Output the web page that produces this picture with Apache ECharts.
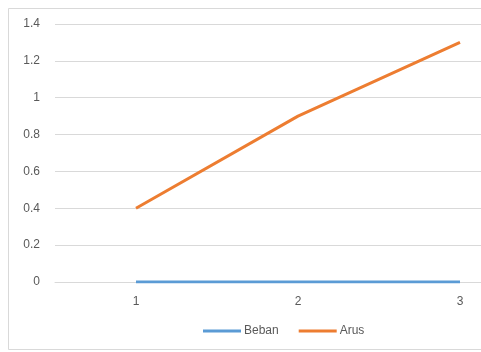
<!DOCTYPE html>
<html>
<head>
<meta charset="utf-8">
<script src="https://cdn.jsdelivr.net/npm/echarts@6/dist/echarts.min.js"></script>
<style>
  html, body { margin: 0; padding: 0; background: #ffffff; }
  #chart { width: 481px; height: 352px; }
</style>
</head>
<body>
<div id="chart"></div>
<script>
// Categories and series values
const categories = ['1', '2', '3'];
const bebanValues = [0, 0, 0];
const arusValues = [0.4, 0.9, 1.3];
const seriesNames = ['Beban', 'Arus'];

const chart = echarts.init(document.getElementById('chart'), null, { renderer: 'canvas' });

const labelFont = { color: '#595959', fontSize: 12, fontFamily: 'Liberation Sans, Arial, sans-serif' };

chart.setOption({
  backgroundColor: '#ffffff',
  animation: false,
  graphic: [{
    type: 'rect',
    shape: { x: 8.5, y: 8.5, width: 560, height: 341 },
    style: { fill: 'none', stroke: '#d9d9d9', lineWidth: 1 },
    z: -1
  }],
  legend: {
    left: 198,
    top: 320,
    itemWidth: 38,
    itemHeight: 3,
    itemGap: 20,
    icon: 'rect',
    textStyle: Object.assign({}, labelFont, { padding: [0, 0, 0, -2] }),
    data: seriesNames
  },
  // the plot area runs past the right edge of the canvas
  grid: { left: 55, width: 486, top: 24, bottom: 70, outerBoundsMode: 'none', containLabel: false },
  xAxis: {
    type: 'category',
    data: categories,
    boundaryGap: true,
    axisLine: { show: true, lineStyle: { color: '#d9d9d9' } },
    axisTick: { show: false },
    axisLabel: Object.assign({ margin: 14 }, labelFont),
    splitLine: { show: false }
  },
  yAxis: {
    type: 'value',
    min: 0,
    max: 1.4,
    interval: 0.2,
    axisLine: { show: false },
    axisTick: { show: false },
    axisLabel: Object.assign({ margin: 15, formatter: v => String(+v.toFixed(1)) }, labelFont),
    splitLine: { lineStyle: { color: '#d9d9d9', width: 1 } }
  },
  series: [
    {
      name: seriesNames[0],
      type: 'line',
      data: bebanValues,
      symbol: 'none',
      lineStyle: { color: '#5B9BD5', width: 3 },
      itemStyle: { color: '#5B9BD5' },
      z: 3
    },
    {
      name: seriesNames[1],
      type: 'line',
      data: arusValues,
      symbol: 'none',
      lineStyle: { color: '#ED7D31', width: 3 },
      itemStyle: { color: '#ED7D31' },
      z: 3
    }
  ]
});
</script>
</body>
</html>
